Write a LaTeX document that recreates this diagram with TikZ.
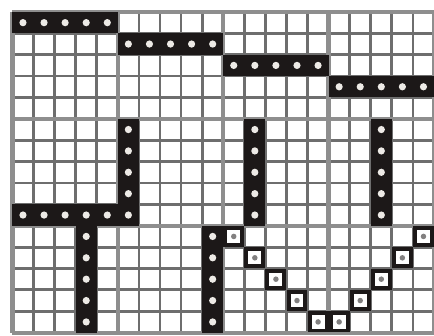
\documentclass[tikz,border=0pt]{standalone}
\usepackage{tikz}
\definecolor{ink}{HTML}{1C1818}
\definecolor{rule}{HTML}{6E6E6E}
\definecolor{block}{HTML}{8E8E8E}
\definecolor{speck}{HTML}{EDEAE6}
\colorlet{mid}{ink!55}
\begin{document}
\begin{tikzpicture}[x=15.825pt,y=-16.05pt]
    \useasboundingbox (-0.59,-0.56) rectangle (20,15.14);
    % cell lines
    \foreach \i in {1,...,19} \draw[rule,line width=2.1pt] (\i,0) -- (\i,15);
    \foreach \j in {1,...,14} \draw[rule,line width=2.1pt] (0,\j) -- (20,\j);
    % block lines
    \foreach \i in {0,5,10,15,20} \draw[block,line width=3.2pt] (\i,0) -- (\i,15);
    \foreach \j in {0,5,10,15} \draw[block,line width=3.2pt] (0,\j) -- (20,\j);
    % horizontal runs
    \foreach \c/\r in {0/0,5/1,10/2,15/3,0/9} {
      \fill[ink] (\c,\r) rectangle (\c+5,\r+1);
      \foreach \k in {0,...,4} \fill[speck] (\c+\k+0.5,\r+0.5) circle (0.17);
    }
    % vertical runs
    \foreach \c/\r in {5/5,11/5,17/5,3/10,9/10} {
      \fill[ink] (\c,\r) rectangle (\c+1,\r+5);
      \foreach \k in {0,...,4} \fill[speck] (\c+0.5,\r+\k+0.5) circle (0.17);
    }
    % single cells, V shape
    \foreach \c/\r in {10/10,11/11,12/12,13/13,14/14,15/14,16/13,17/12,18/11,19/10} {
      \draw[ink,line width=3pt,fill=white] (\c+0.1,\r+0.1) rectangle (\c+0.9,\r+0.9);
      \fill[mid] (\c+0.5,\r+0.5) circle (0.13);
    }
\end{tikzpicture}
\end{document}
